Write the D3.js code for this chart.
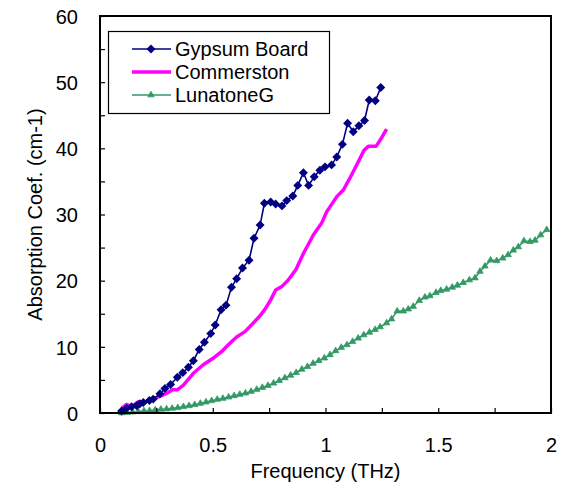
<!DOCTYPE html>
<html>
<head>
<meta charset="utf-8">
<script src="https://d3js.org/d3.v7.min.js"></script>
<style>
  body { margin: 0; background: #fff; }
  text { font-family: "Liberation Sans", Arial, sans-serif; }
</style>
</head>
<body>
<div id="chart"></div>
<script>
// frequency (THz) / absorption coef. (cm-1)
var gypsumFreq = [0.096, 0.118, 0.14, 0.163, 0.177, 0.192, 0.219, 0.236, 0.266, 0.288, 0.313, 0.343, 0.367, 0.392, 0.414, 0.44, 0.463, 0.491, 0.511, 0.537, 0.559, 0.583, 0.606, 0.632, 0.661, 0.683, 0.71, 0.729, 0.757, 0.779, 0.807, 0.828, 0.855, 0.877, 0.902, 0.925, 0.95, 0.975, 0.998, 1.027, 1.05, 1.075, 1.098, 1.123, 1.148, 1.173, 1.194, 1.221, 1.245];
var gypsumAbs = [0.3, 0.7, 0.95, 1.1, 1.4, 1.6, 1.9, 2.1, 2.9, 3.7, 4.3, 5.4, 6.1, 6.9, 7.9, 9.6, 10.7, 12.0, 13.3, 15.6, 16.3, 19.0, 20.3, 21.9, 23.1, 26.4, 28.4, 31.7, 31.9, 31.6, 31.3, 32.1, 32.8, 34.4, 36.3, 34.4, 35.7, 36.7, 37.2, 37.5, 38.7, 40.6, 43.8, 42.5, 43.4, 44.2, 47.3, 47.2, 49.2];

var commFreq = [0.096, 0.118, 0.14, 0.17, 0.19, 0.222, 0.266, 0.296, 0.322, 0.343, 0.37, 0.414, 0.458, 0.503, 0.54, 0.569, 0.606, 0.643, 0.68, 0.71, 0.732, 0.757, 0.779, 0.806, 0.835, 0.869, 0.902, 0.946, 0.983, 1.005, 1.05, 1.079, 1.116, 1.146, 1.171, 1.19, 1.224, 1.249, 1.271];
var commAbs = [0.7, 1.3, 0.95, 1.7, 1.5, 2.0, 2.5, 3.0, 3.5, 3.5, 4.2, 6.0, 7.3, 8.3, 9.3, 10.3, 11.5, 12.3, 13.6, 14.7, 15.7, 17.1, 18.6, 19.1, 20.1, 21.7, 24.1, 26.9, 28.7, 30.4, 32.7, 33.7, 36.0, 38.0, 39.7, 40.3, 40.3, 41.6, 42.9];

var lunaFreq = [0.096, 0.12, 0.145, 0.17, 0.195, 0.22, 0.245, 0.27, 0.295, 0.32, 0.345, 0.37, 0.395, 0.42, 0.445, 0.47, 0.495, 0.52, 0.545, 0.57, 0.595, 0.62, 0.645, 0.67, 0.695, 0.72, 0.745, 0.77, 0.795, 0.82, 0.845, 0.87, 0.895, 0.92, 0.945, 0.97, 0.995, 1.02, 1.045, 1.07, 1.095, 1.12, 1.145, 1.17, 1.195, 1.22, 1.242, 1.271, 1.293, 1.318, 1.345, 1.367, 1.389, 1.416, 1.441, 1.463, 1.49, 1.511, 1.537, 1.562, 1.585, 1.611, 1.638, 1.663, 1.685, 1.707, 1.732, 1.759, 1.786, 1.81, 1.833, 1.855, 1.88, 1.907, 1.929, 1.954, 1.981];
var lunaAbs = [0, 0.05, 0.15, 0.2, 0.3, 0.35, 0.45, 0.55, 0.6, 0.7, 0.8, 0.95, 1.1, 1.25, 1.45, 1.65, 1.85, 2.05, 2.2, 2.4, 2.6, 2.8, 3.0, 3.25, 3.55, 3.85, 4.15, 4.5, 4.9, 5.3, 5.7, 6.1, 6.6, 7.0, 7.5, 7.9, 8.3, 8.8, 9.4, 9.9, 10.3, 10.8, 11.3, 11.8, 12.2, 12.6, 13.0, 13.6, 14.2, 15.4, 15.4, 15.7, 16.1, 17.0, 17.5, 17.7, 18.2, 18.5, 18.7, 19.0, 19.3, 19.7, 20.1, 20.4, 21.4, 22.2, 23.1, 23.0, 23.4, 23.9, 24.6, 25.1, 26.0, 25.9, 26.1, 26.9, 27.7];

var seriesNames = ["Gypsum Board", "Commerston", "LunatoneG"];
var xTicks = [0, 0.25, 0.5, 0.75, 1, 1.25, 1.5, 1.75, 2];
var yTicks = [0, 5, 10, 15, 20, 25, 30, 35, 40, 45, 50, 55, 60];

var width = 570, height = 488;
var margin = { top: 16, right: 19, bottom: 75, left: 100 };
var w = width - margin.left - margin.right;
var h = height - margin.top - margin.bottom;

var svg = d3.select("#chart").append("svg")
    .attr("width", width)
    .attr("height", height);
var g = svg.append("g")
    .attr("transform", "translate(" + margin.left + "," + margin.top + ")");

var x = d3.scaleLinear().domain([0, 2]).range([0, w]);
var y = d3.scaleLinear().domain([0, 60]).range([h, 0]);

function zip(a, b) {
  return a.map(function (v, i) { return [v, b[i]]; });
}
var gypsum = zip(gypsumFreq, gypsumAbs);
var comm = zip(commFreq, commAbs);
var luna = zip(lunaFreq, lunaAbs);

var line = d3.line()
    .x(function (d) { return x(d[0]); })
    .y(function (d) { return y(d[1]); });

var colors = ["#000080", "#ff00ff", "#339966"];
// excel style diamond = square turned 45 deg
var diamond = d3.symbol().type(d3.symbolSquare).size(40);
var tri = d3.symbol().type(d3.symbolTriangle).size(18);

// lunatone
g.append("path").datum(luna)
    .attr("d", line).attr("fill", "none")
    .attr("stroke", colors[2]).attr("stroke-width", 1.6);
g.selectAll(".tri").data(luna).enter().append("path")
    .attr("class", "tri")
    .attr("d", tri)
    .attr("transform", function (d) { return "translate(" + x(d[0]) + "," + y(d[1]) + ")"; })
    .attr("fill", colors[2]).attr("stroke", colors[2]).attr("stroke-width", 0.8);

// commerston
g.append("path").datum(comm)
    .attr("d", line).attr("fill", "none")
    .attr("stroke", colors[1]).attr("stroke-width", 3.5)
    .attr("stroke-linejoin", "round");

// gypsum board
g.append("path").datum(gypsum)
    .attr("d", line).attr("fill", "none")
    .attr("stroke", colors[0]).attr("stroke-width", 1.6);
g.selectAll(".dia").data(gypsum).enter().append("path")
    .attr("class", "dia")
    .attr("d", diamond)
    .attr("transform", function (d) { return "translate(" + x(d[0]) + "," + y(d[1]) + ") rotate(45)"; })
    .attr("fill", colors[0]);

// axes
var xAxis = d3.axisBottom(x).tickValues(xTicks).tickSize(-5).tickPadding(25)
    .tickFormat(function (d) { return d % 0.5 === 0 ? d3.format("")(d) : ""; });
var yAxis = d3.axisLeft(y).tickValues(yTicks).tickSize(-5).tickPadding(22)
    .tickFormat(function (d) { return d % 10 === 0 ? d : ""; });

var gx = g.append("g").attr("transform", "translate(0," + h + ")").call(xAxis);
var gy = g.append("g").call(yAxis);
[gx, gy].forEach(function (a) {
  a.select(".domain").remove();
  a.selectAll("line").attr("stroke", "#000").attr("stroke-width", 1.2);
  a.selectAll("text").attr("font-size", 20).attr("fill", "#000")
      .attr("font-family", "'Liberation Sans', Arial, sans-serif");
});
gy.selectAll("text").attr("dy", "0.36em");

// frame
g.append("rect").attr("width", w).attr("height", h)
    .attr("fill", "none").attr("stroke", "#000").attr("stroke-width", 2);

// axis titles
svg.append("text")
    .attr("x", margin.left + w / 2).attr("y", 478)
    .attr("text-anchor", "middle").attr("font-size", 20)
    .text("Frequency (THz)");
svg.append("text")
    .attr("transform", "translate(42," + (margin.top + h / 2) + ") rotate(-90)")
    .attr("text-anchor", "middle").attr("font-size", 20)
    .text("Absorption Coef. (cm-1)");

// legend
var lg = svg.append("g");
lg.append("rect").attr("x", 108.5).attr("y", 31.5).attr("width", 221).attr("height", 82)
    .attr("fill", "#fff").attr("stroke", "#000").attr("stroke-width", 1.2);
var rowsY = [49, 72, 95];
seriesNames.forEach(function (name, i) {
  lg.append("line").attr("x1", 132).attr("x2", 171).attr("y1", rowsY[i]).attr("y2", rowsY[i])
      .attr("stroke", colors[i]).attr("stroke-width", i === 1 ? 3.5 : 1.6);
  if (i === 0) {
    lg.append("path").attr("d", diamond).attr("fill", colors[0])
        .attr("transform", "translate(151," + rowsY[i] + ") rotate(45)");
  } else if (i === 2) {
    lg.append("path").attr("d", tri).attr("fill", colors[2]).attr("stroke", colors[2])
        .attr("stroke-width", 0.8)
        .attr("transform", "translate(151," + rowsY[i] + ")");
  }
  lg.append("text").attr("x", 175).attr("y", rowsY[i]).attr("dy", "0.36em")
      .attr("font-size", 20).text(name);
});
</script>
</body>
</html>
